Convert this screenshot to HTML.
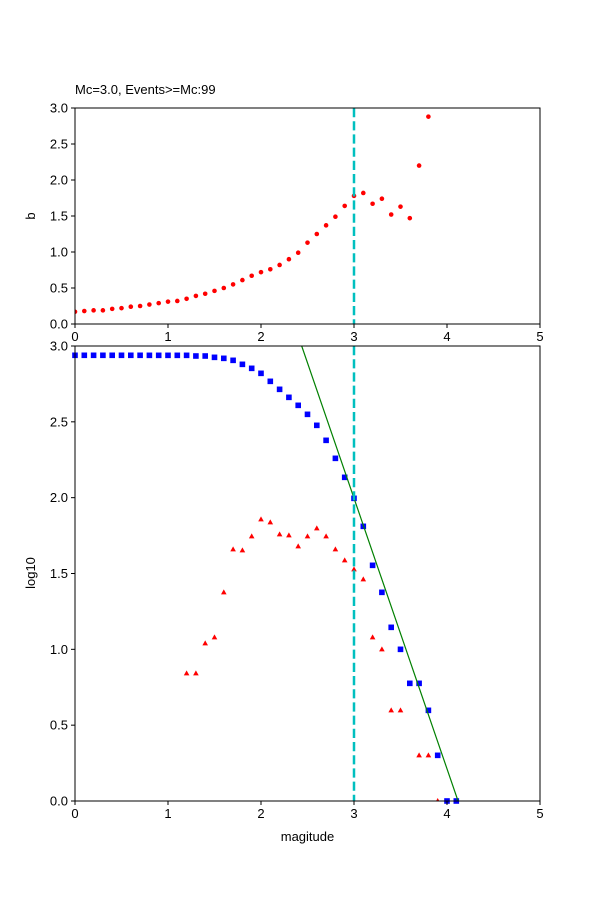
<!DOCTYPE html>
<html><head><meta charset="utf-8"><style>
html,body{margin:0;padding:0;background:#fff}
svg{display:block;font-family:"Liberation Sans","DejaVu Sans",sans-serif}
</style></head><body>
<svg id="s" width="600" height="900" xmlns="http://www.w3.org/2000/svg">
<defs>
<clipPath id="c1"><rect x="75" y="108" width="465" height="216"/></clipPath>
<clipPath id="c2"><rect x="75" y="346" width="465" height="455"/></clipPath>
</defs>
<rect width="600" height="900" fill="#fff"/>
<g id="g"></g>
<text x="75" y="94" font-size="13">Mc=3.0, Events&gt;=Mc:99</text>
<text transform="translate(35,216) rotate(-90)" font-size="13" text-anchor="middle">b</text>
<text transform="translate(35,573) rotate(-90)" font-size="13" text-anchor="middle">log10</text>
<text x="307.5" y="841" font-size="13" text-anchor="middle">magitude</text>
</svg>
<script>
var g=document.getElementById('g'),h='';
function X(m){return 75+93*m;}
// top
var b=[0.17,0.18,0.19,0.19,0.21,0.22,0.24,0.25,0.27,0.29,0.31,0.32,0.35,0.39,0.42,0.46,0.50,0.55,0.61,0.67,0.72,0.76,0.82,0.90,0.99,1.13,1.25,1.37,1.49,1.64,1.78,1.82,1.67,1.74,1.52,1.63,1.47,2.20,2.88];
h+='<g clip-path="url(#c1)">';
b.forEach(function(v,i){h+='<circle cx="'+X(i*0.1)+'" cy="'+(324-72*v)+'" r="2.3" fill="#f00"/>';});
h+='</g>';
// bottom blue
var bz=[46,46,46,46,46,48,48,52,55,61,73,85,100,124,148,172,196,223,256,301,355,412,475,559,676,757,862,928,1030,1030,1111,1246,1383,1383];
for(var i=0;i<8;i++)h+='<rect x="'+(X(i*0.1)-2.8)+'" y="'+(355.3-2.8)+'" width="5.6" height="5.6" fill="#00f"/>';
bz.forEach(function(z,i){var m=0.8+i*0.1;h+='<rect x="'+(X(m)-2.8)+'" y="'+(340+z/3-2.8)+'" width="5.6" height="5.6" fill="#00f"/>';});
// green line
h+='<g clip-path="url(#c2)"><line x1="301.7" y1="346" x2="458.3" y2="801.7" stroke="#008000" stroke-width="1.2"/></g>';
// red triangles
var rt=[[1.2,1000],[1.3,1000],[1.4,910],[1.5,892],[1.6,757],[1.7,628],[1.8,631],[1.9,589],[2.0,538],[2.1,547],[2.2,583],[2.3,586],[2.4,619],[2.5,589],[2.6,565],[2.7,589],[2.8,628],[2.9,661],[3.0,688],[3.1,718],[3.2,892],[3.3,928],[3.4,1111],[3.5,1111],[3.7,1246],[3.8,1246],[3.9,1383]];
h+='<g clip-path="url(#c2)">';
rt.forEach(function(p){var x=X(p[0]),y=340+p[1]/3;h+='<path d="M'+x+' '+(y-3)+'L'+(x+2.8)+' '+(y+2)+'L'+(x-2.8)+' '+(y+2)+'Z" fill="#f00"/>';});
h+='</g>';
// dashed lines
h+='<line x1="354" y1="108" x2="354" y2="324" stroke="#00bfbf" stroke-width="2.5" stroke-dasharray="9.2,4"/>';
h+='<line x1="354" y1="346" x2="354" y2="801" stroke="#00bfbf" stroke-width="2.5" stroke-dasharray="9.2,4"/>';
// axes
function axes(top,bot,sc){
 h+='<rect x="75" y="'+top+'" width="465" height="'+(bot-top)+'" fill="none" stroke="#000" stroke-width="1"/>';
 for(var m=0;m<=5;m++){var x=X(m);h+='<line x1="'+x+'" y1="'+bot+'" x2="'+x+'" y2="'+(bot+4)+'" stroke="#000"/><text x="'+x+'" y="'+(bot+17)+'" font-size="13" text-anchor="middle">'+m+'</text>';}
 for(var k=0;k<=6;k++){var v=k*0.5,y=bot-sc*v;h+='<line x1="71" y1="'+y+'" x2="75" y2="'+y+'" stroke="#000"/><text x="68" y="'+(y+4.5)+'" font-size="13" text-anchor="end">'+v.toFixed(1)+'</text>';}
}
axes(108,324,72);axes(346,801,151.67);
g.innerHTML=h;
</script>
</body></html>
